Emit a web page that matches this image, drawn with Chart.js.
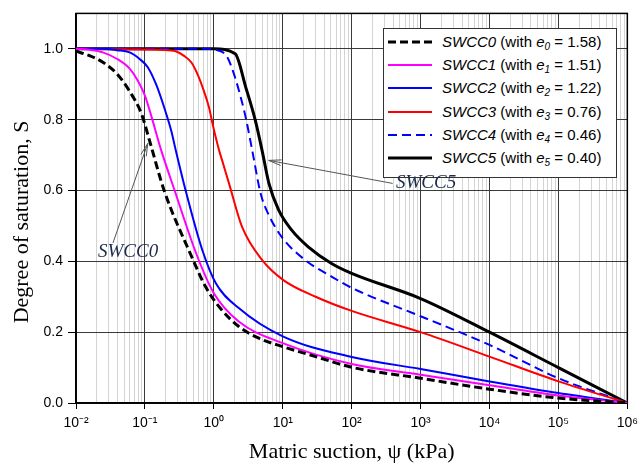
<!DOCTYPE html>
<html>
<head>
<meta charset="utf-8">
<script src="https://cdn.jsdelivr.net/npm/chart.js@4.4.1/dist/chart.umd.min.js"></script>
<style>
  body { margin: 0; background: #fff; }
  #wrap { position: relative; width: 644px; height: 469px; }
  #chart { position: absolute; left: 0; top: 0; }
  #legend {
    position: absolute; left: 383px; top: 28px; width: 232px; height: 148px;
    border: 1.5px solid #333; background: #fff;
    font-family: "Liberation Sans", Arial, sans-serif; font-size: 15px; color: #000;
  }
  .item { position: absolute; left: 0; height: 20px; line-height: 20px; white-space: nowrap; }
  .item svg { position: absolute; left: 3px; top: 0; }
  .item span.txt { position: absolute; left: 58px; top: 0; }
  .item sub { font-size: 10px; vertical-align: -3px; line-height: 0; }
  .note {
    position: absolute; font-family: "Liberation Serif", "Times New Roman", serif;
    font-style: italic; font-size: 19px; line-height: 19px; color: #1c2b4a; white-space: nowrap;
  }
</style>
</head>
<body>
<div id="wrap">
  <canvas id="chart" width="644" height="469"></canvas>
  <div id="legend"></div>
  <div class="note" style="left:98px; top:241px;">SWCC0</div>
  <div class="note" style="left:396px; top:172px;">SWCC5</div>
</div>
<script>
/* Data */
const names = ["SWCC0", "SWCC1", "SWCC2", "SWCC3", "SWCC4", "SWCC5"];
const voidRatios = ["1.58", "1.51", "1.22", "0.76", "0.46", "0.40"];

const swcc0Psi = [0.01, 0.016, 0.0245, 0.039, 0.06, 0.089, 0.117, 0.19, 0.46, 0.76, 1.19, 2.3, 4.5, 10, 30, 100, 1000, 1e4, 1e5, 1e6];
const swcc0S = [0.993, 0.98, 0.962, 0.93, 0.88, 0.817, 0.74, 0.6, 0.42, 0.328, 0.272, 0.216, 0.183, 0.159, 0.131, 0.101, 0.07, 0.039, 0.014, 0];

const swcc1Psi = [0.01, 0.016, 0.0245, 0.039, 0.06, 0.079, 0.1, 0.123, 0.172, 0.27, 0.56, 1, 2.3, 10, 100, 1000, 1e4, 1e5, 1e6];
const swcc1S = [1.0, 0.997, 0.99, 0.972, 0.944, 0.91, 0.868, 0.812, 0.714, 0.6, 0.42, 0.31, 0.23, 0.169, 0.11, 0.08, 0.05, 0.021, 0];

const swcc2Psi = [0.01, 0.025, 0.039, 0.06, 0.083, 0.11, 0.145, 0.19, 0.24, 0.28, 0.39, 0.68, 1.07, 2.3, 10, 100, 1000, 1e4, 1e5, 1e6];
const swcc2S = [1.0, 1.0, 0.996, 0.99, 0.972, 0.948, 0.9, 0.835, 0.77, 0.714, 0.6, 0.432, 0.338, 0.268, 0.188, 0.13, 0.096, 0.061, 0.028, 0];

const swcc3Psi = [0.01, 0.18, 0.28, 0.37, 0.47, 0.575, 0.72, 0.85, 0.98, 1.19, 1.32, 1.66, 2.57, 5.0, 10.2, 30, 100, 1000, 1e4, 1e5, 1e6];
const swcc3S = [1.0, 0.997, 0.993, 0.98, 0.962, 0.93, 0.88, 0.835, 0.78, 0.714, 0.685, 0.62, 0.497, 0.404, 0.347, 0.3, 0.26, 0.2, 0.131, 0.061, 0];

const swcc4Psi = [0.01, 0.68, 1.26, 1.57, 1.95, 2.45, 2.95, 3.6, 4.8, 6.3, 10, 21, 51, 100, 1000, 1e4, 1e5, 1e6];
const swcc4S = [1.0, 1.0, 0.993, 0.976, 0.93, 0.864, 0.8, 0.714, 0.59, 0.53, 0.465, 0.404, 0.357, 0.325, 0.245, 0.164, 0.07, 0];

const swcc5Psi = [0.01, 1, 2.04, 2.9, 4.0, 5.0, 6.3, 8.7, 13.5, 23.4, 51, 100, 1000, 1e4, 1e5, 1e6];
const swcc5S = [1.0, 1.0, 0.986, 0.892, 0.798, 0.714, 0.62, 0.545, 0.488, 0.441, 0.394, 0.366, 0.295, 0.2, 0.1, 0];

const yTicks = [0, 0.2, 0.4, 0.6, 0.8, 1.0];
const xDecades = [-2, -1, 0, 1, 2, 3, 4, 5, 6];

const psiList = [swcc0Psi, swcc1Psi, swcc2Psi, swcc3Psi, swcc4Psi, swcc5Psi];
const sList = [swcc0S, swcc1S, swcc2S, swcc3S, swcc4S, swcc5S];
const colors = ["#000000", "#ff00ff", "#0000ff", "#ff0000", "#0000ff", "#000000"];
const widths = [3, 2, 2, 2, 2, 3];
const dashes = [[8, 4], [], [], [], [9, 5], []];

function toPoints(xs, ys) {
  return xs.map((x, i) => ({ x: x, y: ys[i] }));
}

const datasets = names.map((name, i) => ({
  label: name,
  data: toPoints(psiList[i], sList[i]),
  borderColor: colors[i],
  borderWidth: widths[i],
  borderDash: dashes[i],
  pointRadius: 0,
  fill: false,
  cubicInterpolationMode: "monotone",
}));

/* Superscript labels */
const sup = { "-": "\u207b", "0": "\u2070", "1": "\u00b9", "2": "\u00b2", "3": "\u00b3", "4": "\u2074", "5": "\u2075", "6": "\u2076" };
function isDecade(v) {
  const l = Math.log10(v);
  return Math.abs(l - Math.round(l)) < 1e-9;
}
function decadeLabel(v) {
  const e = String(Math.round(Math.log10(v)));
  return "10" + e.split("").map((c) => sup[c]).join("");
}

/* Frame and arrows */
const framePlugin = {
  id: "frame",
  beforeDatasetsDraw(chart) {
    const { ctx, chartArea: a } = chart;
    ctx.save();
    ctx.strokeStyle = "#000";
    ctx.lineWidth = 1.5;
    ctx.strokeRect(a.left, a.top, a.right - a.left, a.bottom - a.top);
    ctx.restore();
  },
};

const arrows = [
  { from: { x: 0.0344, y: 0.452 }, to: { x: 0.11, y: 0.733 } },
  { from: { x: 393, y: 0.62 }, to: { x: 6.25, y: 0.685 } },
];

const arrowPlugin = {
  id: "arrows",
  afterDatasetsDraw(chart) {
    const { ctx, scales } = chart;
    ctx.save();
    ctx.strokeStyle = "#555";
    ctx.lineWidth = 1;
    arrows.forEach((a) => {
      const x0 = scales.x.getPixelForValue(a.from.x);
      const y0 = scales.y.getPixelForValue(a.from.y);
      const x1 = scales.x.getPixelForValue(a.to.x);
      const y1 = scales.y.getPixelForValue(a.to.y);
      const ang = Math.atan2(y1 - y0, x1 - x0);
      ctx.beginPath();
      ctx.moveTo(x0, y0);
      ctx.lineTo(x1, y1);
      ctx.moveTo(x1 - 13 * Math.cos(ang - 0.22), y1 - 13 * Math.sin(ang - 0.22));
      ctx.lineTo(x1, y1);
      ctx.lineTo(x1 - 13 * Math.cos(ang + 0.22), y1 - 13 * Math.sin(ang + 0.22));
      ctx.stroke();
    });
    ctx.restore();
  },
};

const ctx = document.getElementById("chart").getContext("2d");

const config = {
  type: "line",
  data: { datasets: datasets },
  options: {
    responsive: false,
    animation: false,
    layout: { padding: { top: 13, right: 12, left: 0, bottom: 0 } },
    plugins: {
      legend: { display: false },
      tooltip: { enabled: false },
    },
    scales: {
      x: {
        type: "logarithmic",
        min: 0.01,
        max: 1e6,
        afterBuildTicks: (scale) => {
          const t = [];
          xDecades.forEach((e) => {
            for (let k = 1; k <= 9; k++) {
              if (e === 6 && k > 1) break;
              t.push({ value: k * Math.pow(10, e) });
            }
          });
          scale.ticks = t;
        },
        afterFit: (scale) => {
          scale.height = 66;
        },
        border: { color: "#000", width: 1.5 },
        grid: {
          color: (c) => (c.tick && isDecade(c.tick.value) ? "#3a3a3a" : "#d4d4d4"),
          tickColor: (c) => (c.tick && isDecade(c.tick.value) ? "#000" : "rgba(0,0,0,0)"),
          tickLength: 6,
          lineWidth: 1,
        },
        ticks: {
          autoSkip: false,
          maxRotation: 0,
          padding: 6,
          color: "#000",
          font: { family: "'Liberation Sans', Arial, sans-serif", size: 14 },
          callback: (v) => (isDecade(v) ? decadeLabel(v) : ""),
        },
        title: {
          display: true,
          text: "Matric suction, \u03c8 (kPa)",
          color: "#000",
          font: { family: "'Liberation Serif', 'Times New Roman', serif", size: 22 },
          padding: { top: 0, bottom: 4 },
        },
      },
      y: {
        type: "linear",
        min: 0,
        max: 1.1,
        afterBuildTicks: (scale) => {
          scale.ticks = yTicks.map((v) => ({ value: v }));
        },
        afterFit: (scale) => {
          scale.width = 76;
        },
        border: { color: "#000", width: 1.5 },
        grid: {
          color: "#3a3a3a",
          tickColor: "#000",
          tickLength: 8,
          lineWidth: 1,
        },
        ticks: {
          padding: 5,
          color: "#000",
          font: { family: "'Liberation Sans', Arial, sans-serif", size: 14 },
          callback: (v) => v.toFixed(1),
        },
        title: {
          display: true,
          // trailing spaces push the visible title down a little, as in the original
          text: "Degree of saturation, S     ",
          color: "#000",
          font: { family: "'Liberation Serif', 'Times New Roman', serif", size: 22 },
          padding: { top: 9, bottom: 0 },
        },
      },
    },
  },
  plugins: [framePlugin, arrowPlugin],
};

const swccChart = new Chart(ctx, config);

/* HTML legend built from the datasets */
const legendBox = document.getElementById("legend");
swccChart.data.datasets.forEach((ds, i) => {
  const row = document.createElement("div");
  row.className = "item";
  row.style.top = 3 + i * 23.2 + "px";
  const dash = ds.borderDash.length ? ` stroke-dasharray="${ds.borderDash.join(",")}"` : "";
  row.innerHTML =
    `<svg width="46" height="20"><line x1="1" y1="10" x2="45" y2="10" stroke="${ds.borderColor}" stroke-width="${ds.borderWidth}"${dash}/></svg>` +
    `<span class="txt"><i>${ds.label}</i> (with <i>e</i><sub><i>${i}</i></sub> = ${voidRatios[i]})</span>`;
  legendBox.appendChild(row);
});
</script>
</body>
</html>
